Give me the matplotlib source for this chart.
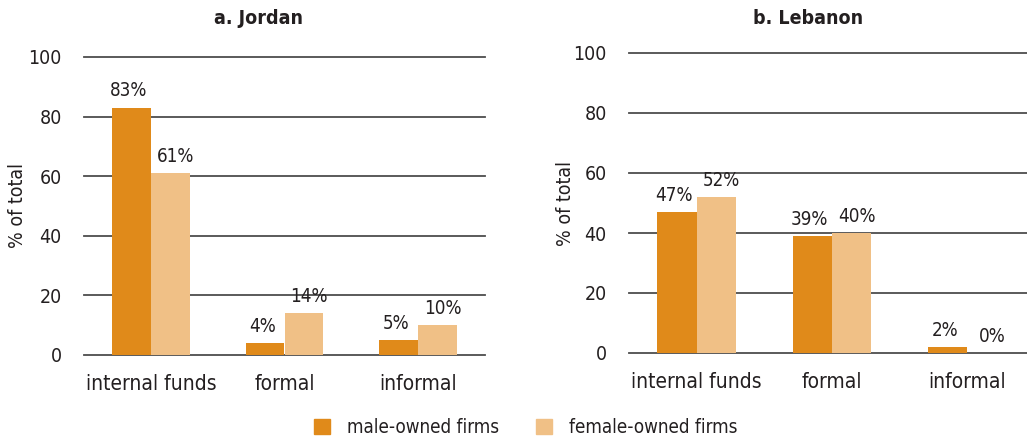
import numpy as np
import matplotlib.pyplot as plt

plt.rcParams['font.family'] = ['DejaVu Sans']
plt.rcParams['font.stretch'] = 'condensed'

categories = ['internal funds', 'formal', 'informal']
series_names = ['male-owned firms', 'female-owned firms']

jordan_male = [83, 4, 5]
jordan_female = [61, 14, 10]
lebanon_male = [47, 39, 2]
lebanon_female = [52, 40, 0]

yticks = [0, 20, 40, 60, 80, 100]

male_color = '#e08a1a'
female_color = '#f0c086'
text_color = '#231f20'
grid_color = '#4d4d4d'

fig = plt.figure(figsize=(10.27, 4.42), dpi=100)
ax1 = fig.add_axes([84 / 1027, 1 - 355 / 442, 401 / 1027, 298 / 442])
ax2 = fig.add_axes([629 / 1027, 1 - 353 / 442, 398 / 1027, 300 / 442])


def draw_panel(ax, male, female, xmax, ylab_x):
    x = np.arange(len(categories))
    w = 0.29
    ax.bar(x - w / 2, male, w, color=male_color, zorder=3)
    ax.bar(x + w / 2, female, w, color=female_color, zorder=3)
    for xi, m, f in zip(x, male, female):
        ax.text(xi - w / 2 - 0.02, m + 2.5, f'{m}%', ha='center', va='bottom',
                fontsize=13.5, color=text_color)
        ax.text(xi + w / 2 + 0.04, f + 2.5, f'{f}%', ha='center', va='bottom',
                fontsize=13.5, color=text_color)
    ax.set_xlim(-0.5, xmax)
    ax.set_ylim(0, 100)
    ax.set_yticks(yticks)
    ax.set_xticks(x)
    ax.set_xticklabels(categories, fontsize=15)
    ax.yaxis.grid(True, color=grid_color, linewidth=1.3, zorder=0)
    for gl in ax.get_ygridlines():
        gl.set_clip_on(False)
    ax.set_axisbelow(True)
    for s in ax.spines.values():
        s.set_visible(False)
    ax.tick_params(axis='both', length=0, colors=text_color)
    ax.tick_params(axis='y', pad=16, labelsize=14)
    ax.tick_params(axis='x', pad=14)
    ax.set_ylabel('% of total', fontsize=14, color=text_color)
    ax.yaxis.set_label_coords(ylab_x, 0.5)


draw_panel(ax1, jordan_male, jordan_female, 2.5, -0.143)
draw_panel(ax2, lebanon_male, lebanon_female, 2.44, -0.136)

fig.text(258 / 1027, 1 - 18 / 442, 'a. Jordan', ha='center', va='center',
         fontsize=14, fontweight='bold', color=text_color)
fig.text(808 / 1027, 1 - 18 / 442, 'b. Lebanon', ha='center', va='center',
         fontsize=14, fontweight='bold', color=text_color)

handles = [plt.Rectangle((0, 0), 1, 1, color=male_color),
           plt.Rectangle((0, 0), 1, 1, color=female_color)]
fig.legend(handles, series_names, loc='center', bbox_to_anchor=(0.512, 0.032),
           ncol=2, frameon=False, fontsize=13.5, handlelength=0.85,
           handleheight=0.85, handletextpad=0.9, columnspacing=2.0,
           labelcolor=text_color)

fig.savefig('out.png', dpi=100)
